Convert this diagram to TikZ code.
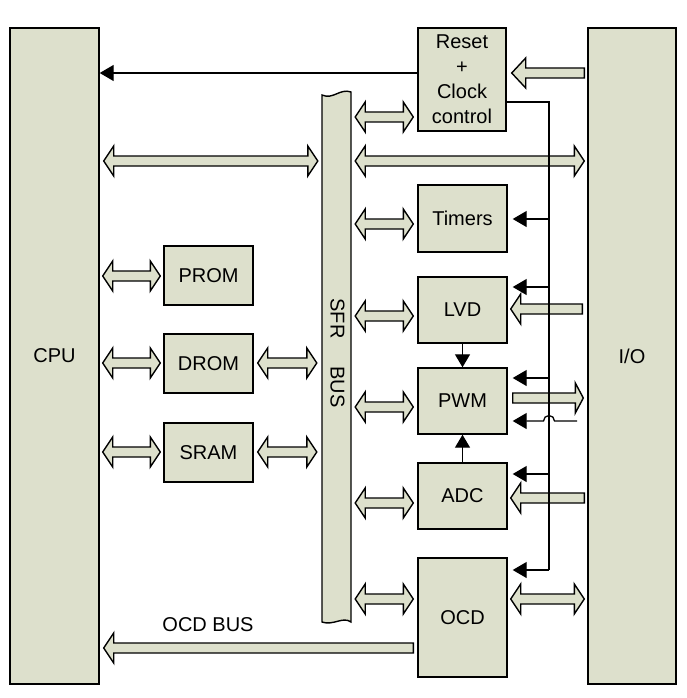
\documentclass[tikz,border=0pt]{standalone}
\usepackage{fontspec}
\setmainfont{Liberation Sans}
\usetikzlibrary{arrows.meta,calc}
\definecolor{boxfill}{RGB}{221,224,204}
\tikzset{
  blk/.style={draw=black, line width=1.4pt, fill=boxfill, inner sep=0pt, font=\fontsize{20}{25}\selectfont, align=center},
  fat/.style={draw=black, line width=1.4pt, fill=boxfill, line join=miter},
  sig/.style={draw=black, line width=1.3pt, -{Triangle[length=14pt,width=16pt]}},
  wire/.style={draw=black, line width=1.3pt},
  lbl/.style={font=\fontsize{20}{25}\selectfont, inner sep=0pt}
}
% double fat arrow: left anchor, right anchor, y
\newcommand\fatdbl[3]{\path[fat] let \p1=(#1), \p2=(#2), \p3=(0,#3) in
  (\x1,\y3) -- (\x1+10,\y3+15) -- (\x1+10,\y3+5) -- (\x2-10,\y3+5) -- (\x2-10,\y3+15)
  -- (\x2,\y3) -- (\x2-10,\y3-15) -- (\x2-10,\y3-5) -- (\x1+10,\y3-5) -- (\x1+10,\y3-15) -- cycle;}
% single fat arrow pointing left: tip anchor, tail anchor, y, head length
\newcommand\fatleft[4]{\path[fat] let \p1=(#1), \p2=(#2), \p3=(0,#3) in
  (\x1,\y3) -- (\x1+#4,\y3+15) -- (\x1+#4,\y3+5) -- (\x2,\y3+5) -- (\x2,\y3-5)
  -- (\x1+#4,\y3-5) -- (\x1+#4,\y3-15) -- cycle;}
% single fat arrow pointing right: tail anchor, tip anchor, y, head length
\newcommand\fatright[4]{\path[fat] let \p1=(#1), \p2=(#2), \p3=(0,#3) in
  (\x1,\y3+5) -- (\x2-#4,\y3+5) -- (\x2-#4,\y3+15) -- (\x2,\y3) -- (\x2-#4,\y3-15)
  -- (\x2-#4,\y3-5) -- (\x1,\y3-5) -- cycle;}
\begin{document}
\begin{tikzpicture}[x=1pt,y=-1pt]
\useasboundingbox (0,0) rectangle (687,698);

% main blocks
\node[blk, minimum width=89, minimum height=656] (cpu) at (54.5,356) {CPU};
\node[blk, minimum width=88, minimum height=656] (io) at (632,356) {I/O};
\node[blk, minimum width=88, minimum height=103] (reset) at (462,79.5) {Reset\\+\\Clock\\control};
\node[blk, minimum width=89, minimum height=67] (timers) at (462.5,218.5) {Timers};
\node[blk, minimum width=89, minimum height=66] (lvd) at (462.5,310) {LVD};
\node[blk, minimum width=89, minimum height=66] (pwm) at (462.5,401) {PWM};
\node[blk, minimum width=89, minimum height=66] (adc) at (462.5,496) {ADC};
\node[blk, minimum width=89, minimum height=119] (ocd) at (462.5,617.5) {OCD};
\node[blk, minimum width=89, minimum height=59] (prom) at (208.5,275.5) {PROM};
\node[blk, minimum width=89, minimum height=59] (drom) at (208.5,363.5) {DROM};
\node[blk, minimum width=89, minimum height=59] (sram) at (208.5,452.5) {SRAM};

% SFR bus
\node[minimum width=29, minimum height=531, inner sep=0pt] (sfr) at (336.5,357) {};
\draw[fat] (322,95) .. controls (333,100) and (340,88) .. (351,92) -- (351,622)
  .. controls (343,616) and (333,626) .. (322,622) -- cycle;
\node[lbl, rotate=-90] (sfrtext) at (337.5,353) {SFR\hspace{28pt}BUS};

% fat arrows
\fatdbl{[xshift=4]cpu.east}{[xshift=-4]sfr.west}{161}
\fatdbl{[xshift=4]sfr.east}{[xshift=-3]io.west}{161}
\fatdbl{[xshift=4]sfr.east}{[xshift=-4]reset.west}{117}
\fatleft{[xshift=5]reset.east}{[xshift=-3]io.west}{73}{14}
\fatdbl{[xshift=4]sfr.east}{[xshift=-4]timers.west}{224}
\fatdbl{[xshift=3]cpu.east}{[xshift=-3]prom.west}{276}
\fatdbl{[xshift=3]cpu.east}{[xshift=-3]drom.west}{363}
\fatdbl{[xshift=4]drom.east}{[xshift=-5]sfr.west}{363}
\fatdbl{[xshift=3]cpu.east}{[xshift=-3]sram.west}{452}
\fatdbl{[xshift=4]sram.east}{[xshift=-5]sfr.west}{452}
\fatdbl{[xshift=4]sfr.east}{[xshift=-4]lvd.west}{316}
\fatleft{[xshift=3]lvd.east}{[xshift=-5]io.west}{309}{10}
\fatdbl{[xshift=4]sfr.east}{[xshift=-4]pwm.west}{407}
\fatright{[xshift=5]pwm.east}{[xshift=-4]io.west}{398}{8}
\fatdbl{[xshift=4]sfr.east}{[xshift=-4]adc.west}{503}
\fatleft{[xshift=3]adc.east}{[xshift=-3]io.west}{498}{10}
\fatdbl{[xshift=4]sfr.east}{[xshift=-4]ocd.west}{599}
\fatdbl{[xshift=3]ocd.east}{[xshift=-3]io.west}{599}
\fatleft{[xshift=4]cpu.east}{[xshift=-4]ocd.west}{648}{10}
\node[lbl] (ocdbus) at (208,625) {OCD BUS};

% thin signal lines
\draw[sig] (reset.west |- 0,73) -- (cpu.east |- 0,73);
\coordinate (ctop) at (549,102);
\coordinate (cbot) at (549,570);
\draw[wire] (reset.east |- ctop) -- (ctop) -- (cbot);
\draw[sig] (cbot) -- ([xshift=5]ocd.east |- cbot);
\draw[sig] (ctop |- 0,219) -- ([xshift=5]timers.east |- 0,219);
\draw[sig] (ctop |- 0,287) -- ([xshift=5]lvd.east |- 0,287);
\draw[sig] (ctop |- 0,378) -- ([xshift=5]pwm.east |- 0,378);
\draw[sig] (ctop |- 0,474) -- ([xshift=5]adc.east |- 0,474);
\coordinate (pin) at (577,421);
\draw[sig] (pin) -- (554.5,421) arc[start angle=0, end angle=180, radius=5.5pt] -- ([xshift=5]pwm.east |- pin);
\draw[sig, -{Triangle[length=13pt,width=15pt]}] (lvd.south) -- (pwm.north);
\draw[sig, -{Triangle[length=13pt,width=15pt]}] (adc.north) -- (pwm.south);
\end{tikzpicture}
\end{document}
